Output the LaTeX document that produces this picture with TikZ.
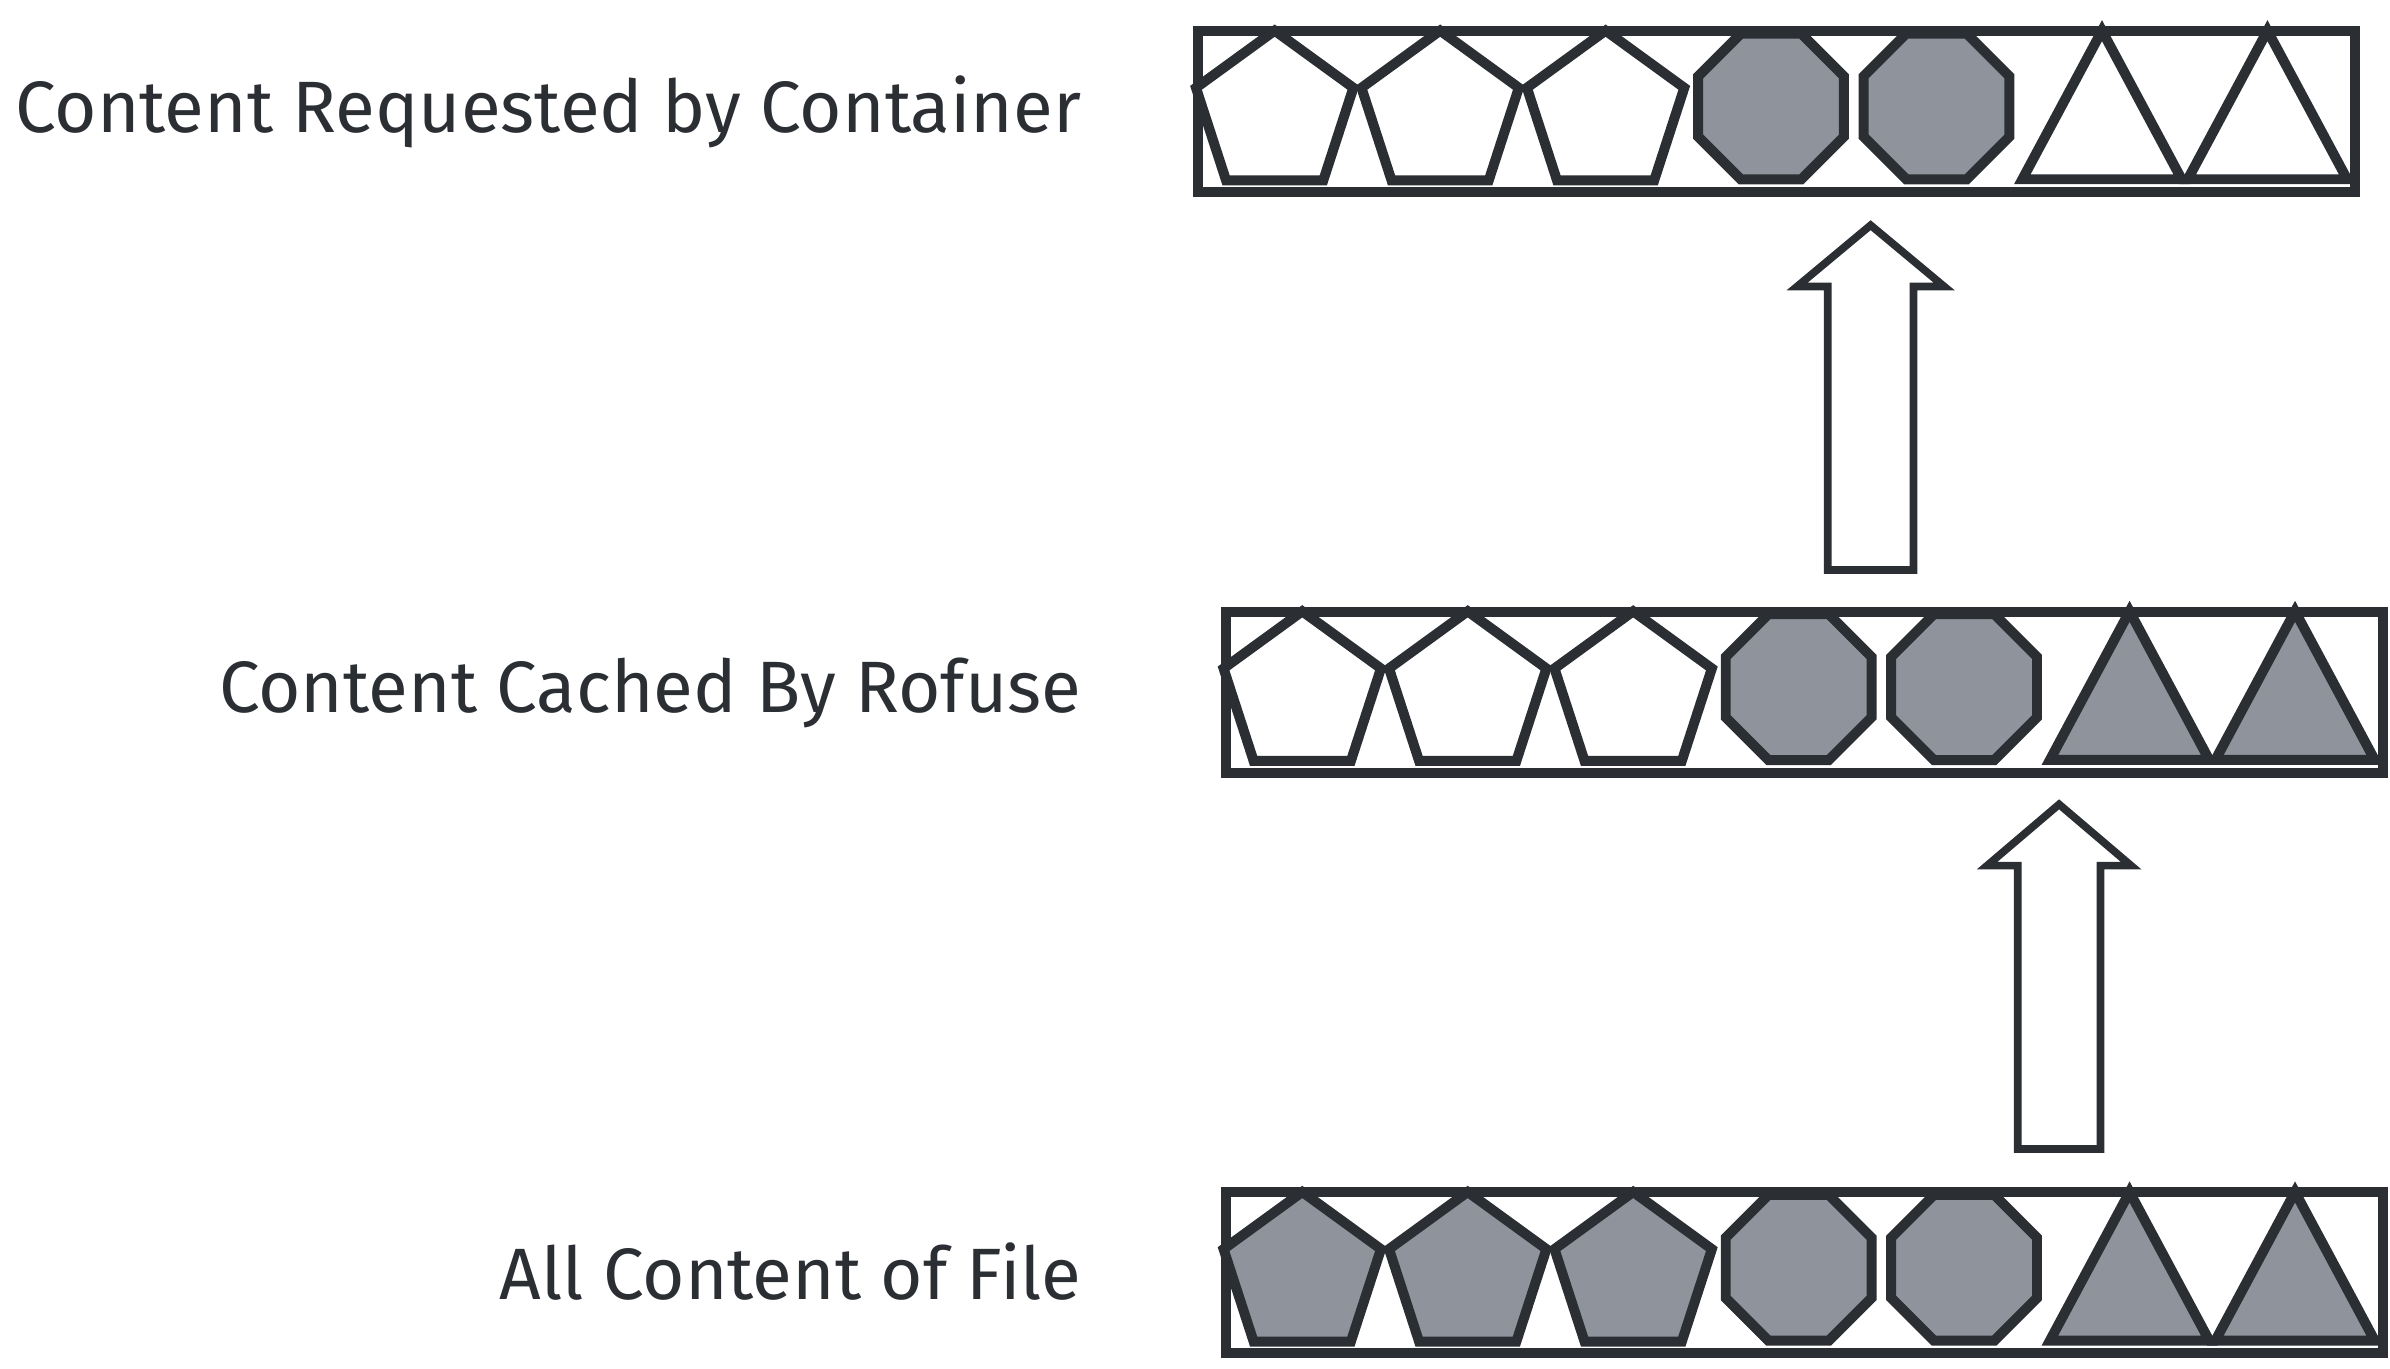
\documentclass[tikz,border=0pt]{standalone}
\usepackage{fontspec}
\setmainfont{Fira Sans}
\usetikzlibrary{calc}
\definecolor{ink}{HTML}{2B2F34}
\definecolor{gry}{HTML}{8E939C}
\begin{document}
\begin{tikzpicture}[x=1pt,y=-1pt,line width=6.5pt,line join=miter,
  lbl/.style={anchor=east,font=\fontsize{47.5}{52}\selectfont\color{ink},inner sep=0pt},
  bar/.style={draw=ink,minimum width=755pt,minimum height=105pt,anchor=north west,inner sep=0pt},
  shp/.style={draw=ink,fill=#1}]
\useasboundingbox (0,0) rectangle (1560,893);
\newcommand\rowdraw[6]{%
  \node[bar] (#6) at (#1,#2) {};
  \foreach \i in {0,1,2}{
    \pgfmathsetmacro\cx{#1+53+108*\i}\pgfmathsetmacro\cy{#2+57}
    \draw[shp=#3] ($(\cx,\cy)+(270:54)$) -- ($(\cx,\cy)+(342:54)$) -- ($(\cx,\cy)+(54:54)$) -- ($(\cx,\cy)+(126:54)$) -- ($(\cx,\cy)+(198:54)$) -- cycle;}
  \foreach \i in {3,4}{
    \pgfmathsetmacro\cx{#1+53+108*\i}\pgfmathsetmacro\cy{#2+52.5}
    \draw[shp=#4] ($(\cx,\cy)+(22.5:51.5)$) \foreach \k in {1,...,7}{ -- ($(\cx,\cy)+(22.5+45*\k:51.5)$)} -- cycle;}
  \foreach \i in {5,6}{
    \pgfmathsetmacro\cx{#1+53+108*\i}
    \draw[shp=#5] (\cx,#2+3) -- (\cx+52,#2+100) -- (\cx-52,#2+100) -- cycle;}
}
\rowdraw{779}{17}{white}{gry}{white}{r1}
\rowdraw{797}{396}{white}{gry}{gry}{r2}
\rowdraw{797}{775}{gry}{gry}{gry}{r3}
\node[lbl] (t1) at (709,73) {Content Requested by Container};
\node[lbl] (t2) at (709,452) {Content Cached By Rofuse};
\node[lbl] (t3) at (709,830) {All Content of File};
\draw[draw=ink,fill=white,line width=5pt] (1193,372) -- (1193,187) -- (1173,187) -- (1221,147) -- (1269,187) -- (1249,187) -- (1249,372) -- cycle;
\draw[draw=ink,fill=white,line width=5pt] (1317,750) -- (1317,565) -- (1297,565) -- (1344,525) -- (1391,565) -- (1371,565) -- (1371,750) -- cycle;
\end{tikzpicture}
\end{document}
